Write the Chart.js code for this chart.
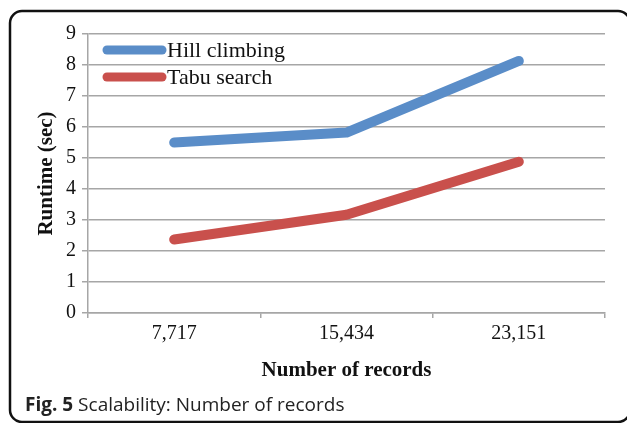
<!DOCTYPE html>
<html>
<head>
<meta charset="utf-8">
<script src="https://cdn.jsdelivr.net/npm/chart.js@4"></script>
<style>
  body { margin: 0; background: #fff; }
</style>
</head>
<body>
<canvas id="chart" width="627" height="423"></canvas>
<script>
var records = ["7,717", "15,434", "23,151"];
var hillClimbing = [5.5, 5.82, 8.13];
var tabuSearch = [2.37, 3.17, 4.88];
var yTicks = [0, 1, 2, 3, 4, 5, 6, 7, 8, 9];

var serif = '"Liberation Serif", "Times New Roman", serif';

// outer rounded frame + caption
var framePlugin = {
  id: 'frame',
  beforeDraw: function(chart) {
    var ctx = chart.ctx;
    ctx.save();
    ctx.fillStyle = '#fff';
    ctx.fillRect(0, 0, chart.width, chart.height);
    ctx.strokeStyle = '#111';
    ctx.lineWidth = 2.5;
    ctx.beginPath();
    ctx.roundRect(10, 11, 620, 411, 12);
    ctx.stroke();
    ctx.restore();
  },
  afterDraw: function(chart) {
    var ctx = chart.ctx;
    ctx.save();
    ctx.textBaseline = 'middle';
    ctx.fillStyle = '#222';
    ctx.font = 'bold 19px "Open Sans", sans-serif';
    ctx.fillText('Fig. 5', 25, 406);
    var w = ctx.measureText('Fig. 5 ').width;
    ctx.font = 'normal 19px "Open Sans", sans-serif';
    ctx.fillText('Scalability: Number of records', 25 + w, 406);
    ctx.restore();
  }
};

// legend drawn inside the plot, top-left
var legendPlugin = {
  id: 'innerLegend',
  afterDatasetsDraw: function(chart) {
    var ctx = chart.ctx;
    ctx.save();
    chart.data.datasets.forEach(function(ds, i) {
      var y = 50 + i * 27;
      ctx.strokeStyle = ds.borderColor;
      ctx.lineWidth = 9;
      ctx.lineCap = 'round';
      ctx.beginPath();
      ctx.moveTo(107, y);
      ctx.lineTo(162, y);
      ctx.stroke();
      ctx.fillStyle = '#111';
      ctx.font = 'normal 22px ' + serif;
      ctx.textBaseline = 'middle';
      ctx.fillText(ds.label, 167, y + 1);
    });
    ctx.restore();
  }
};

new Chart(document.getElementById('chart'), {
  type: 'line',
  data: {
    labels: records,
    datasets: [
      {
        label: 'Hill climbing',
        data: hillClimbing,
        borderColor: '#5A8DC8',
        borderWidth: 10,
        borderCapStyle: 'round',
        borderJoinStyle: 'round',
        pointRadius: 0,
        tension: 0
      },
      {
        label: 'Tabu search',
        data: tabuSearch,
        borderColor: '#C9504C',
        borderWidth: 10,
        borderCapStyle: 'round',
        borderJoinStyle: 'round',
        pointRadius: 0,
        tension: 0
      }
    ]
  },
  options: {
    responsive: false,
    animation: false,
    layout: { padding: { top: 34, right: 22, left: 0, bottom: 0 } },
    plugins: {
      legend: { display: false },
      tooltip: { enabled: false }
    },
    scales: {
      x: {
        offset: true,
        afterFit: function(s) { s.height = 110; },
        grid: {
          offset: true,
          drawOnChartArea: false,
          tickLength: 5,
          color: '#A6A6A6',
          lineWidth: 1.5
        },
        border: { color: '#A6A6A6', width: 1.5 },
        ticks: {
          color: '#111',
          padding: 4,
          font: { family: serif, size: 20 }
        },
        title: {
          display: true,
          text: 'Number of records',
          color: '#111',
          padding: { bottom: 40 },
          font: { family: serif, size: 21, weight: 'bold' }
        }
      },
      y: {
        min: 0,
        max: 9,
        afterFit: function(s) { s.width = 88; },
        afterBuildTicks: function(s) {
          s.ticks = yTicks.map(function(v) { return { value: v }; });
        },
        grid: {
          color: '#A6A6A6',
          lineWidth: 1.5,
          tickLength: 6
        },
        border: { color: '#A6A6A6', width: 1.5 },
        ticks: {
          color: '#111',
          padding: 6,
          font: { family: serif, size: 20 }
        },
        title: {
          display: true,
          text: 'Runtime (sec)',
          color: '#111',
          padding: { top: 34 },
          font: { family: serif, size: 21, weight: 'bold' }
        }
      }
    }
  },
  plugins: [framePlugin, legendPlugin]
});
</script>
</body>
</html>
